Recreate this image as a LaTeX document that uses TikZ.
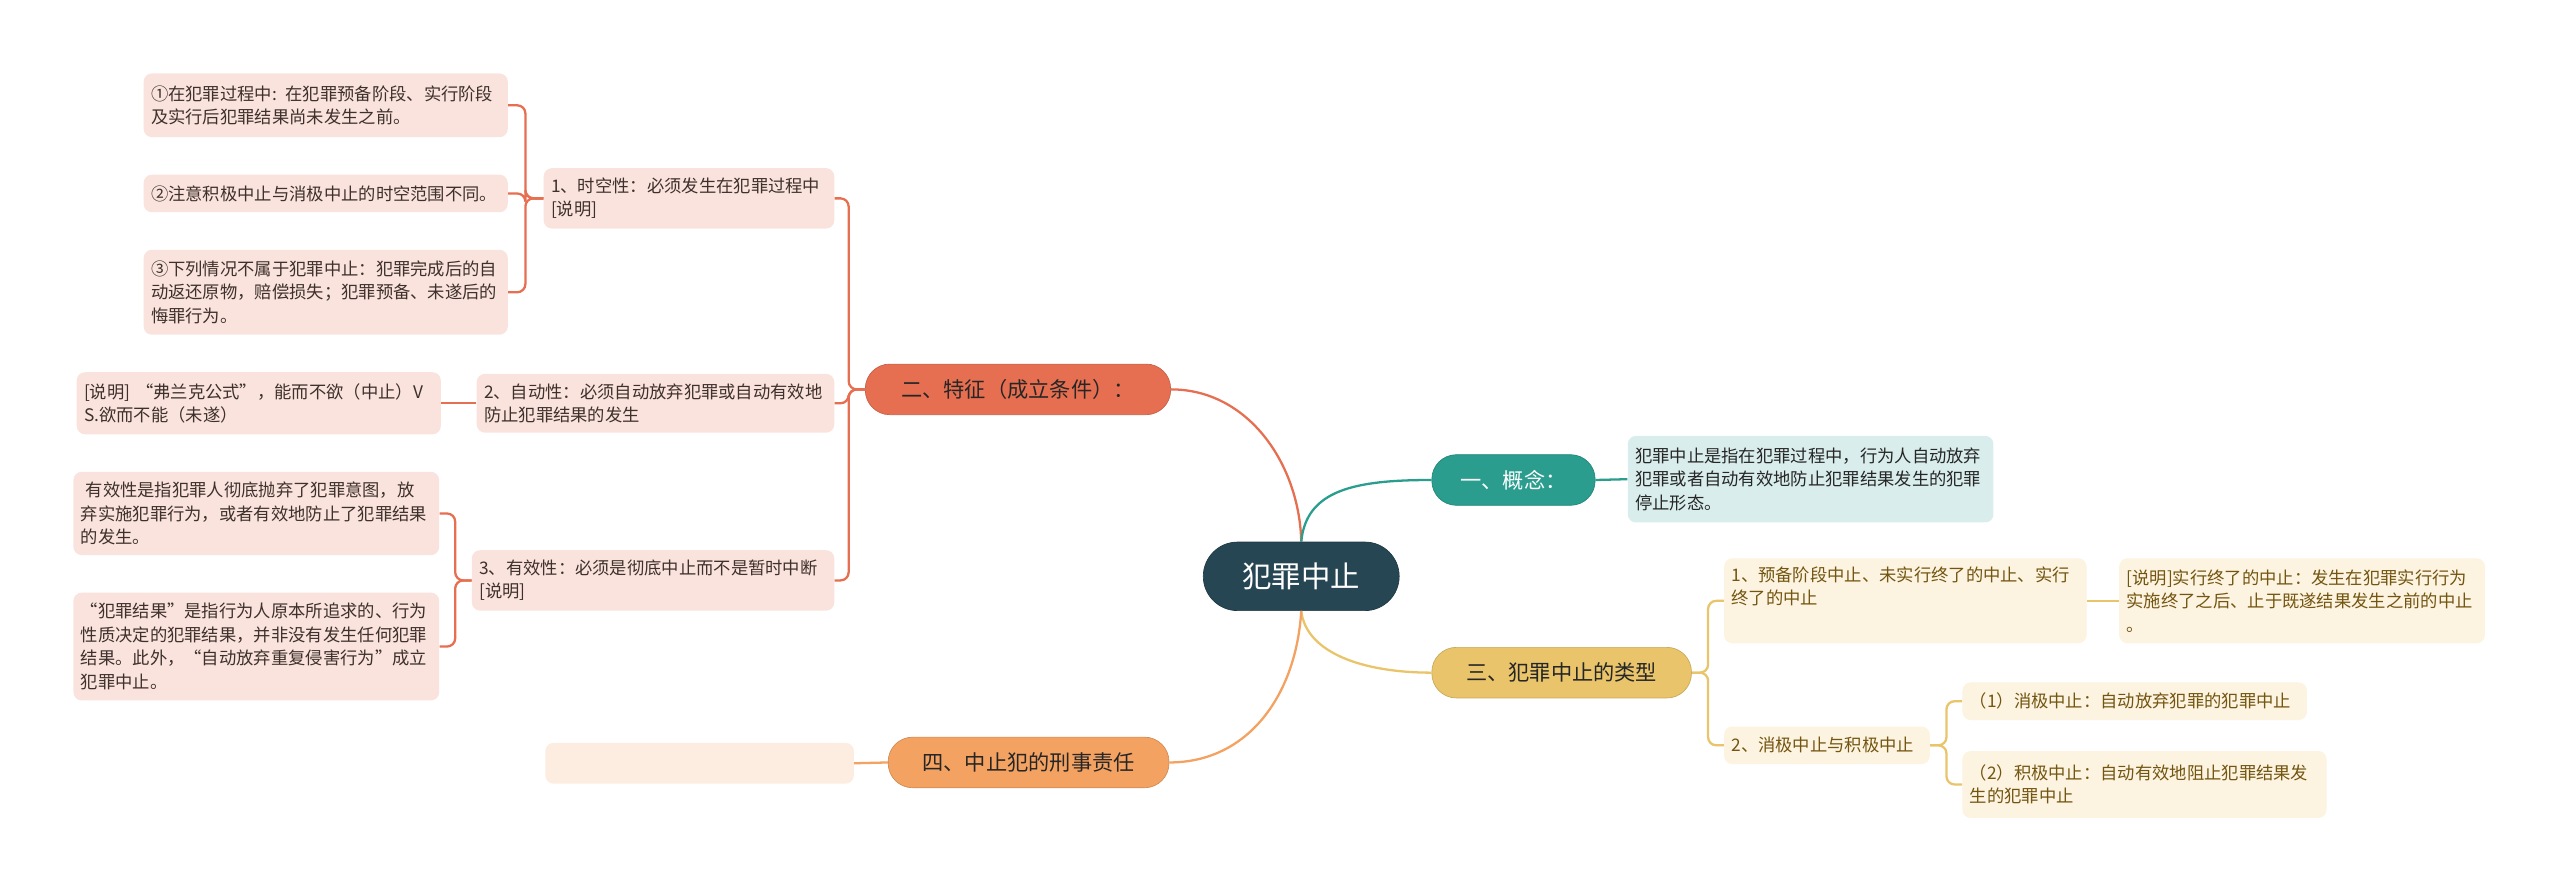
\documentclass[tikz,border=0pt]{standalone}
\usepackage{fontspec}
\setmainfont{Noto Sans CJK SC}
\usepackage{xcolor}
\definecolor{rootcol}{HTML}{264653}
\definecolor{tealcol}{HTML}{2A9D8F}
\definecolor{redcol}{HTML}{E76F51}
\definecolor{yelcol}{HTML}{E9C46A}
\definecolor{orgcol}{HTML}{F4A261}
\definecolor{pinkfill}{HTML}{FAE3DC}
\definecolor{tealfill}{HTML}{D9EEEC}
\definecolor{yelfill}{HTML}{FCF3E1}
\definecolor{orgfill}{HTML}{FDEDE1}
\definecolor{pinktext}{HTML}{3E302C}
\definecolor{yeltext}{HTML}{735510}
\tikzset{
  % central topic
  rootnode/.style={rectangle, rounded corners=21pt, fill=rootcol, draw=rootcol!80!black, text=white,
                   minimum width=120pt, minimum height=42pt, font=\fontsize{18}{22}\selectfont},
  % first level topic (pill)
  mainnode/.style={rectangle, rounded corners=15pt, fill=#1, draw=#1!85!black, line width=0.4pt,
                   minimum height=31pt, inner xsep=0pt, font=\fontsize{13}{16}\selectfont, text=black!85},
  % detail box
  dbox/.style={rectangle, rounded corners=5pt, fill=#1, inner xsep=4.5pt, inner ysep=3pt, align=left,
               font=\fontsize{10.6}{14.4}\selectfont},
  % connector
  link/.style={line width=1.4pt, draw=#1, rounded corners=5pt},
}

\begin{document}
\begin{tikzpicture}[x=1pt, y=-1pt]
  \useasboundingbox (0,0) rectangle (1568,548);

  % root and first level
  \node[rootnode] (r) at (797,353) {犯罪中止};
  \node[mainnode=tealcol, text=white, minimum width=100pt] (m1) at (927,294) {一、概念：};
  \node[mainnode=redcol, minimum width=187pt] (m2) at (623.5,238.5) {二、特征（成立条件）：};
  \node[mainnode=yelcol, minimum width=159pt] (m3) at (956.5,412) {三、犯罪中止的类型};
  \node[mainnode=orgcol, minimum width=172pt] (m4) at (630,467) {四、中止犯的刑事责任};

  % concept
  \node[dbox=tealfill, text=black!85, text width=215pt, minimum height=53pt] (d1) at (1109,293.5)
    {犯罪中止是指在犯罪过程中，行为人自动放弃\\犯罪或者自动有效地防止犯罪结果发生的犯罪\\停止形态。};

  % features
  \node[dbox=pinkfill, text=pinktext, text width=169pt, minimum height=37pt] (b1) at (422,121.5)
    {1、时空性：必须发生在犯罪过程中\\{}[说明]};
  \node[dbox=pinkfill, text=pinktext, text width=210pt, minimum height=36pt] (b2) at (401.5,247)
    {2、自动性：必须自动放弃犯罪或自动有效地\\防止犯罪结果的发生};
  \node[dbox=pinkfill, text=pinktext, text width=213pt, minimum height=37pt] (b3) at (400,355.5)
    {3、有效性：必须是彻底中止而不是暂时中断\\{}[说明]};

  \node[dbox=pinkfill, text=pinktext, text width=214pt, minimum height=39pt] (a1) at (199.5,64.5)
    {①在犯罪过程中: 在犯罪预备阶段、实行阶段\\及实行后犯罪结果尚未发生之前。};
  \node[dbox=pinkfill, text=pinktext, text width=214pt, minimum height=23pt] (a2) at (199.5,118.5)
    {②注意积极中止与消极中止的时空范围不同。};
  \node[dbox=pinkfill, text=pinktext, text width=214pt, minimum height=52pt] (a3) at (199.5,179)
    {③下列情况不属于犯罪中止：犯罪完成后的自\\动返还原物，赔偿损失；犯罪预备、未遂后的\\悔罪行为。};

  \node[dbox=pinkfill, text=pinktext, text width=214pt, minimum height=38pt] (c1) at (158.5,247)
    {[说明] “弗兰克公式”，能而不欲（中止）V\\S.欲而不能（未遂）};
  \node[dbox=pinkfill, text=pinktext, text width=215pt, minimum height=51pt] (c2) at (157,314.5)
    {\hspace*{3pt}有效性是指犯罪人彻底抛弃了犯罪意图，放\\弃实施犯罪行为，或者有效地防止了犯罪结果\\的发生。};
  \node[dbox=pinkfill, text=pinktext, text width=215pt, minimum height=66pt] (c3) at (157,396)
    {“犯罪结果”是指行为人原本所追求的、行为\\性质决定的犯罪结果，并非没有发生任何犯罪\\结果。此外，“自动放弃重复侵害行为”成立\\犯罪中止。};

  % types
  \node[dbox=yelfill, text=yeltext, text width=213pt, minimum height=52pt] (e1) at (1167,368)
    {1、预备阶段中止、未实行终了的中止、实行\\终了的中止\\\strut};
  \node[dbox=yelfill, text=yeltext, text width=215pt, minimum height=52pt] (e2) at (1410,368)
    {[说明]实行终了的中止：发生在犯罪实行行为\\实施终了之后、止于既遂结果发生之前的中止\\。};
  \node[dbox=yelfill, text=yeltext, text width=117pt, minimum height=23pt] (e3) at (1119,456.5)
    {2、消极中止与积极中止};
  \node[dbox=yelfill, text=yeltext, text width=202pt, minimum height=23pt] (e4) at (1307.5,429.5)
    {（1）消极中止：自动放弃犯罪的犯罪中止};
  \node[dbox=yelfill, text=yeltext, text width=214pt, minimum height=41pt] (e5) at (1313.5,480.5)
    {（2）积极中止：自动有效地阻止犯罪结果发\\生的犯罪中止};

  % liability (empty)
  \node[dbox=orgfill, text width=180pt, minimum height=25pt] (f1) at (428.5,467.5) {};

  % root branches
  \draw[link=redcol] (r.north) .. controls (796,285) and (765,238.5) .. (m2.east);
  \draw[link=tealcol] (r.north) .. controls (800,300) and (830,294) .. (m1.west);
  \draw[link=yelcol] (r.south) .. controls (800,400) and (835,412) .. (m3.west);
  \draw[link=orgcol] (r.south) .. controls (794,425) and (765,467) .. (m4.east);

  % forks
  \foreach \k in {b1,b2,b3} \draw[link=redcol] (m2.west) -- ++(-10,0) |- (\k.east);
  \foreach \k in {a1,a2,a3} \draw[link=redcol] (b1.west) -- ++(-11,0) |- (\k.east);
  \foreach \k in {c2,c3} \draw[link=redcol] (b3.west) -- ++(-10,0) |- (\k.east);
  \draw[link=redcol] (b2.west) -- (c1.east);
  \foreach \k in {e1,e3} \draw[link=yelcol] (m3.east) -- ++(10,0) |- (\k.west);
  \foreach \k in {e4,e5} \draw[link=yelcol] (e3.east) -- ++(10,0) |- (\k.west);
  \draw[link=yelcol] (e1.east) -- (e2.west);
  \draw[link=tealcol] (m1.east) -- (d1.west);
  \draw[link=orgcol] (m4.west) -- (f1.east);
\end{tikzpicture}
\end{document}
